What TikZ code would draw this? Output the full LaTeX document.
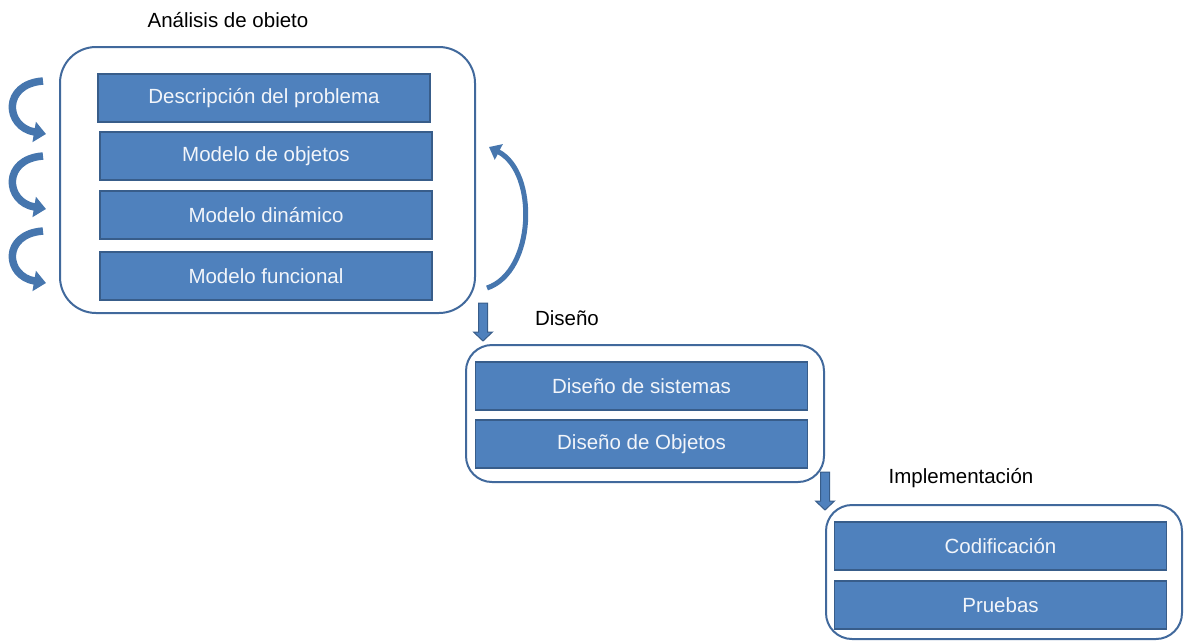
\documentclass[tikz,border=0pt]{standalone}
\usepackage{fontspec}
\setmainfont{Liberation Sans}
\usetikzlibrary{arrows.meta}
\definecolor{boxfill}{HTML}{4F81BD}
\definecolor{boxedge}{HTML}{385D8A}
\definecolor{frameedge}{HTML}{41699C}
\definecolor{arrowblue}{HTML}{4676AE}
\definecolor{boxtext}{HTML}{F2F5FA}
\tikzset{
  x=1pt, y=-1pt,
  every node/.style={font=\fontsize{20.5}{24}\selectfont},
  stage/.style={draw=boxedge, line width=1.8pt, fill=boxfill, text=boxtext,
    minimum width=332pt, minimum height=48pt, inner sep=0pt},
  frame/.style={draw=frameedge, line width=2pt},
  caption/.style={text=black, inner sep=0pt},
  curl/.style={draw=arrowblue, line width=7.5pt,
    -{Triangle[width=20pt,length=12pt]}},
  curlthin/.style={draw=arrowblue, line width=5pt,
    -{Triangle[width=17pt,length=11pt]}},
  downarrow/.pic={
    \draw[boxedge, line width=1pt, fill=boxfill]
      (-4.5,0) -- (4.5,0) -- (4.5,29) -- (9.5,29) -- (0,38)
      -- (-9.5,29) -- (-4.5,29) -- cycle;
  }
}
\begin{document}
\begin{tikzpicture}
\useasboundingbox (0,0) rectangle (1186,641);

% --- Análisis de objeto ---
\draw[frame, rounded corners=36pt] (60,47) rectangle (475,313);
\node[caption] (t1) at (228,20) {Análisis de obieto};
\node[stage] (desc) at (264,98)  {Descripción del problema};
\node[stage] (mobj) at (266,156) {Modelo de objetos};
\node[stage] (mdin) at (266,215) {Modelo dinámico};
\node[stage] (mfun) at (266,276) {Modelo funcional};

% iteration arrows on the left
\coordinate (a1s) at (43,81);  \coordinate (a1e) at (46,134);
\coordinate (a2s) at (43,156); \coordinate (a2e) at (46,209);
\coordinate (a3s) at (43,231); \coordinate (a3e) at (46,283);
\draw[curl] (a1s) .. controls (2,84) and (5,127) .. (a1e);
\draw[curl] (a2s) .. controls (2,159) and (5,202) .. (a2e);
\draw[curl] (a3s) .. controls (2,234) and (5,276) .. (a3e);

% feedback arrow on the right
\coordinate (rbs) at (487,288);
\coordinate (rbe) at (489,147);
\draw[curlthin] (rbs) .. controls (535,272) and (538,172) .. (rbe);

% --- Diseño ---
\pic at (483,303) {downarrow};
\node[caption] (t2) at (567,318) {Diseño};
\draw[frame, rounded corners=26pt] (466,345) rectangle (824,482);
\node[stage] (dsis) at (641.5,386) {Diseño de sistemas};
\node[stage] (dobj) at (641.5,444) {Diseño de Objetos};

% --- Implementación ---
\pic at (825,472) {downarrow};
\node[caption] (t3) at (961,478) {Implementación};
\draw[frame, rounded corners=26pt] (826,505) rectangle (1182,639);
\node[stage] (cod) at (1000.5,546) {Codificación};
\node[stage] (pru) at (1000.5,605) {Pruebas};
\end{tikzpicture}
\end{document}
